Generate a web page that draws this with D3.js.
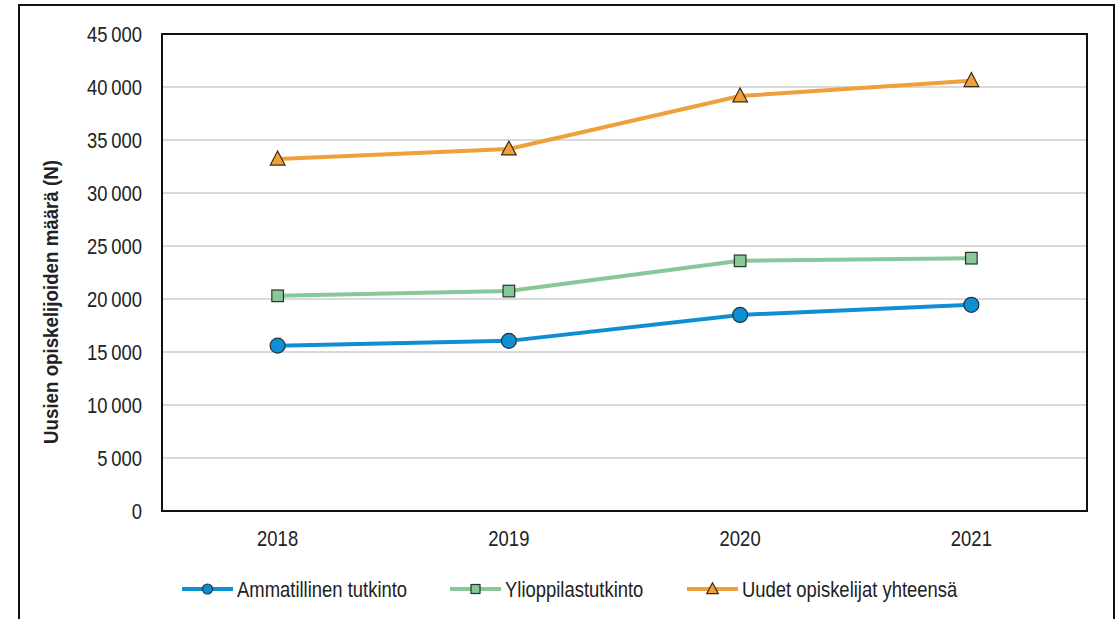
<!DOCTYPE html>
<html>
<head>
<meta charset="utf-8">
<script src="https://cdn.jsdelivr.net/npm/d3@7"></script>
<style>
  body { margin: 0; background: #fff; }
  svg text { fill: #222; }
</style>
</head>
<body>
<svg id="chart"></svg>
<script>
// data
const years = ["2018", "2019", "2020", "2021"];
const ammatillinen = [15600, 16050, 18500, 19450];
const ylioppilas = [20300, 20750, 23600, 23850];
const yhteensa = [33200, 34150, 39150, 40600];
const seriesNames = ["Ammatillinen tutkinto", "Ylioppilastutkinto", "Uudet opiskelijat yhteensä"];
const yTicks = [0, 5000, 10000, 15000, 20000, 25000, 30000, 35000, 40000, 45000];

const W = 1119, H = 619;
// narrow look: Liberation Sans squeezed horizontally
const font = "'Liberation Sans', Arial, sans-serif";
const fontSize = 22.5, squeeze = 0.82;

const svg = d3.select("#chart").attr("width", W).attr("height", H);

// outer chart border
svg.append("rect")
  .attr("x", 19).attr("y", 5)
  .attr("width", 1095).attr("height", 620)
  .attr("fill", "#fff").attr("stroke", "#111").attr("stroke-width", 2);

const margin = { top: 34, right: 32, bottom: 108, left: 162 },
  width = W - margin.left - margin.right,
  height = H - margin.top - margin.bottom;

const x = d3.scaleBand().domain(years).range([0, width]);
const y = d3.scaleLinear().domain([0, 45000]).range([height, 0]);

const g = svg.append("g")
  .attr("transform", "translate(" + margin.left + "," + margin.top + ")");

// gridlines
g.append("g")
  .selectAll("line")
  .data(yTicks.filter(d => d > 0 && d < 45000))
  .enter()
  .append("line")
  .attr("x1", 0).attr("x2", width)
  .attr("y1", d => y(d)).attr("y2", d => y(d))
  .attr("stroke", "#d9d9d9").attr("stroke-width", 2);

// plot frame
g.append("rect")
  .attr("width", width).attr("height", height)
  .attr("fill", "none").attr("stroke", "#111").attr("stroke-width", 2);

const fmt = d => d3.format(",")(d).replace(/,/g, "\u2009");

// y axis labels
const yAxis = g.append("g")
  .call(d3.axisLeft(y).tickValues(yTicks).tickSize(0).tickFormat(fmt));
yAxis.select(".domain").remove();
yAxis.selectAll("text")
  .attr("x", 0)
  .attr("transform", "translate(-20,0) scale(" + squeeze + ",1)")
  .attr("font-family", font).attr("font-size", fontSize).attr("fill", "#222");

// x axis labels
const xAxis = g.append("g")
  .attr("transform", "translate(0," + height + ")")
  .call(d3.axisBottom(x).tickSize(0));
xAxis.select(".domain").remove();
xAxis.selectAll("text")
  .attr("y", 35.5).attr("dy", 0)
  .attr("transform", "scale(" + squeeze + ",1)")
  .attr("font-family", font).attr("font-size", fontSize).attr("fill", "#222");

// y axis title
svg.append("text")
  .attr("transform", "translate(57.5,302) rotate(-90) scale(0.96,1)")
  .attr("text-anchor", "middle")
  .attr("font-family", font)
  .attr("font-weight", "bold")
  .attr("font-size", 19.5)
  .text("Uusien opiskelijoiden määrä (N)");

const series = [
  { name: seriesNames[0], values: ammatillinen, color: "#0e8fd3", shape: "circle" },
  { name: seriesNames[1], values: ylioppilas, color: "#88c797", shape: "square" },
  { name: seriesNames[2], values: yhteensa, color: "#f0a03b", shape: "triangle" }
];

const line = d3.line()
  .x((d, i) => x(years[i]) + x.bandwidth() / 2)
  .y(d => y(d));

const drawMarker = (sel, shape, color, size) => {
  if (shape === "circle") {
    sel.append("circle").attr("r", size)
      .attr("fill", color).attr("stroke", "#263540").attr("stroke-width", 1.2);
  } else if (shape === "square") {
    sel.append("rect")
      .attr("x", -size).attr("y", -size)
      .attr("width", size * 2).attr("height", size * 2)
      .attr("fill", color).attr("stroke", "#26342a").attr("stroke-width", 1.2);
  } else {
    const s = size;
    sel.append("path")
      .attr("d", `M0,${-s * 1.15}L${s * 1.05},${s * 0.85}L${-s * 1.05},${s * 0.85}Z`)
      .attr("fill", color).attr("stroke", "#3a2a14").attr("stroke-width", 1.2);
  }
};

series.forEach(s => {
  g.append("path")
    .datum(s.values)
    .attr("fill", "none")
    .attr("stroke", s.color)
    .attr("stroke-width", 4)
    .attr("stroke-linejoin", "round")
    .attr("d", line);

  const size = s.shape === "circle" ? 7.5 : s.shape === "square" ? 5.8 : 7;
  s.values.forEach((v, i) => {
    const m = g.append("g")
      .attr("transform", "translate(" + (x(years[i]) + x.bandwidth() / 2) + "," + y(v) + ")");
    drawMarker(m, s.shape, s.color, size);
  });
});

// legend
const legendX = [182, 450, 687];
const legend = svg.append("g").attr("transform", "translate(0,589)");
series.forEach((s, i) => {
  const lg = legend.append("g").attr("transform", "translate(" + legendX[i] + ",0)");
  lg.append("line")
    .attr("x1", 0).attr("x2", 51)
    .attr("stroke", s.color).attr("stroke-width", 4);
  const m = lg.append("g").attr("transform", "translate(25.5,0)");
  const size = s.shape === "circle" ? 5 : s.shape === "square" ? 4.5 : 5.5;
  drawMarker(m, s.shape, s.color, size);
  lg.append("text")
    .attr("transform", "translate(55,7.5) scale(" + squeeze + ",1)")
    .attr("font-family", font).attr("font-size", fontSize).attr("fill", "#222")
    .text(s.name);
});
</script>
</body>
</html>
